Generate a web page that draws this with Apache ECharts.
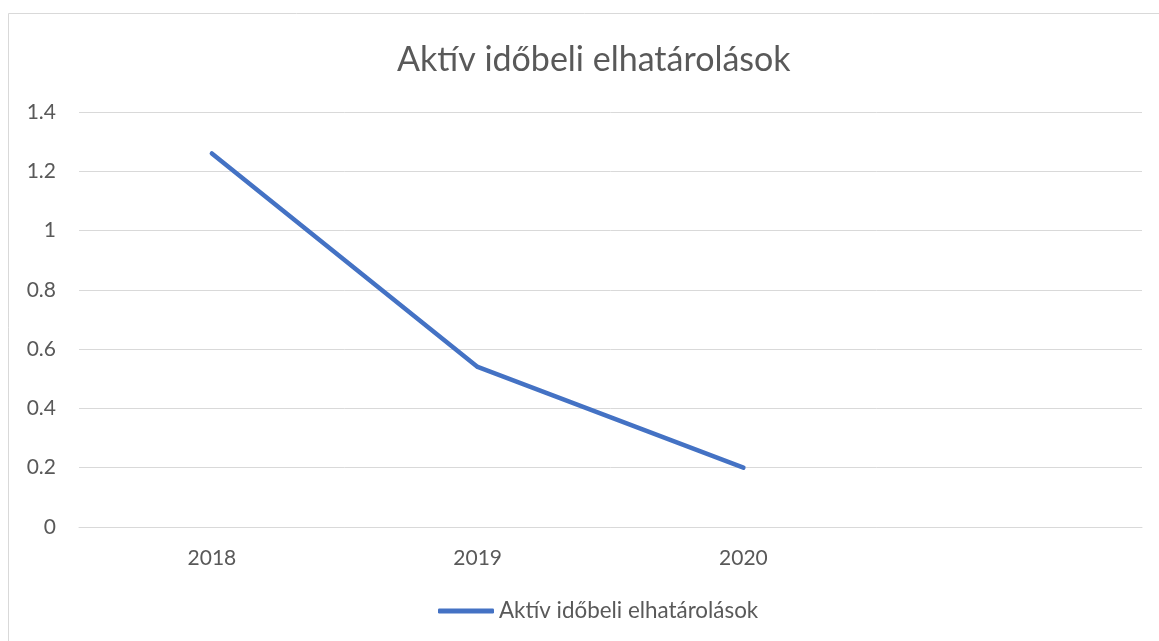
<!DOCTYPE html>
<html>
<head>
<meta charset="utf-8">
<script src="https://cdn.jsdelivr.net/npm/echarts@6/dist/echarts.min.js"></script>
<style>
  html, body { margin: 0; padding: 0; background: #fff; }
  #chart { width: 1159px; height: 641px; }
</style>
</head>
<body>
<div id="chart"></div>
<script>
var seriesName = 'Aktív időbeli elhatárolások';
var categories = ['2018', '2019', '2020', ''];
var values = [1.26, 0.54, 0.2];
var yTicks = { min: 0, max: 1.4, step: 0.2 };

var textColor = '#595959';
var gridColor = '#d9d9d9';
var lineColor = '#4472c4';

var chart = echarts.init(document.getElementById('chart'));
chart.setOption({
  animation: false,
  backgroundColor: '#fff',
  textStyle: { fontFamily: 'Lato' },
  graphic: [{
    type: 'rect',
    shape: { x: 8.5, y: 13.5, width: 1200, height: 700 },
    style: { fill: 'none', stroke: gridColor, lineWidth: 1 },
    silent: true
  }],
  title: {
    text: seriesName,
    left: 392,
    top: 38,
    textStyle: { color: textColor, fontSize: 34, fontWeight: 'normal', fontFamily: 'Lato' }
  },
  legend: {
    bottom: 14,
    left: 433,
    icon: 'roundRect',
    itemWidth: 56,
    itemHeight: 5,
    itemGap: 10,
    textStyle: { color: textColor, fontSize: 22.4, fontFamily: 'Lato' },
    data: [seriesName]
  },
  grid: {
    left: 79,
    right: 17,
    top: 112,
    bottom: 114,
    containLabel: false
  },
  xAxis: {
    type: 'category',
    data: categories,
    boundaryGap: true,
    axisLine: { show: true, lineStyle: { color: gridColor, width: 1 } },
    axisTick: { show: false },
    axisLabel: { color: textColor, fontSize: 21, margin: 21 },
    splitLine: { show: false }
  },
  yAxis: {
    type: 'value',
    min: yTicks.min,
    max: yTicks.max,
    interval: yTicks.step,
    axisLine: { show: false },
    axisTick: { show: false },
    axisLabel: { color: textColor, fontSize: 21, margin: 23 },
    splitLine: { lineStyle: { color: gridColor, width: 1 } }
  },
  series: [{
    name: seriesName,
    type: 'line',
    data: values,
    symbol: 'none',
    lineStyle: { color: lineColor, width: 4.5, cap: 'round', join: 'round' },
    itemStyle: { color: lineColor }
  }]
});
</script>
</body>
</html>
